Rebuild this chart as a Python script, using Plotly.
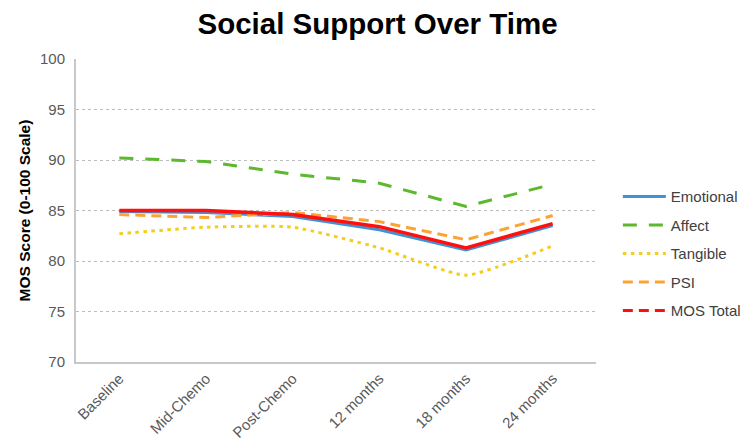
import plotly.graph_objects as go

categories = ["Baseline", "Mid-Chemo", "Post-Chemo", "12 months", "18 months", "24 months"]
emotional = [84.9, 84.8, 84.4, 83.1, 81.1, 83.5]
affect = [90.2, 89.85, 88.6, 87.7, 85.4, 87.6]
tangible = [82.7, 83.35, 83.35, 81.3, 78.6, 81.5]
psi = [84.6, 84.3, 84.8, 83.9, 82.1, 84.5]
mos_total = [85.0, 85.0, 84.6, 83.4, 81.3, 83.7]
y_ticks = [70, 75, 80, 85, 90, 95, 100]

FONT = "Arial, Liberation Sans, sans-serif"

fig = go.Figure()
fig.add_trace(go.Scatter(x=categories, y=emotional, name="Emotional", mode="lines",
                         line=dict(color="#3f93d3", width=3), legendgroup="a"))
fig.add_trace(go.Scatter(x=categories, y=affect, name="Affect", mode="lines",
                         line=dict(color="#5cb82c", width=3, dash="14px,12px"), legendgroup="b"))
fig.add_trace(go.Scatter(x=categories, y=tangible, name="Tangible", mode="lines",
                         line=dict(color="#f5cd1a", width=3, dash="3.5px,4.5px", shape="spline", smoothing=0.5),
                         legendgroup="c"))
fig.add_trace(go.Scatter(x=categories, y=psi, name="PSI", mode="lines",
                         line=dict(color="#fca335", width=3, dash="10px,6px"), legendgroup="d"))
fig.add_trace(go.Scatter(x=categories, y=mos_total, name="MOS Total", mode="lines",
                         line=dict(color="#ff1010", width=3.5), showlegend=False, legendgroup="e"))
# legend entry for MOS Total (drawn dashed in the legend as in the reference)
fig.add_trace(go.Scatter(x=categories, y=[None] * len(categories), name="MOS Total", mode="lines",
                         line=dict(color="#ff1010", width=3, dash="10px,6px"), legendgroup="e"))

fig.update_layout(
    width=750, height=448,
    margin=dict(l=68, r=160, t=51, b=94),
    paper_bgcolor="white", plot_bgcolor="white",
    font=dict(family=FONT, color="#595959", size=15),
    title=dict(text="<b>Social Support Over Time</b>", x=0.4927, xanchor="center",
               y=0.988, yanchor="top", font=dict(family=FONT, size=29.5, color="black")),
    showlegend=True,
    legend=dict(x=1.042, xanchor="left", y=0.6, yanchor="top", itemwidth=43,
                font=dict(family=FONT, size=15, color="#404040"),
                traceorder="grouped", tracegroupgap=6, bgcolor="rgba(0,0,0,0)"),
)
fig.update_xaxes(
    type="category", tickangle=-45, showgrid=False,
    showline=True, linecolor="#c8c8c8", linewidth=2,
    ticks="", tickfont=dict(family=FONT, size=15, color="#595959"),
    range=[-0.5, len(categories) - 0.5],
)
fig.update_yaxes(
    range=[70, 100], tickvals=y_ticks, showgrid=True, gridcolor="#bdbdbd",
    griddash="dot", gridwidth=1, zeroline=False,
    showline=True, linecolor="#c8c8c8", linewidth=2, ticks="", ticklabelstandoff=6,
    tickfont=dict(family=FONT, size=15, color="#595959"),
    title=dict(text="<b>MOS Score (0-100 Scale)</b>", font=dict(family=FONT, size=15.5, color="black"),
               standoff=6),
)

fig.write_html("out.html")
